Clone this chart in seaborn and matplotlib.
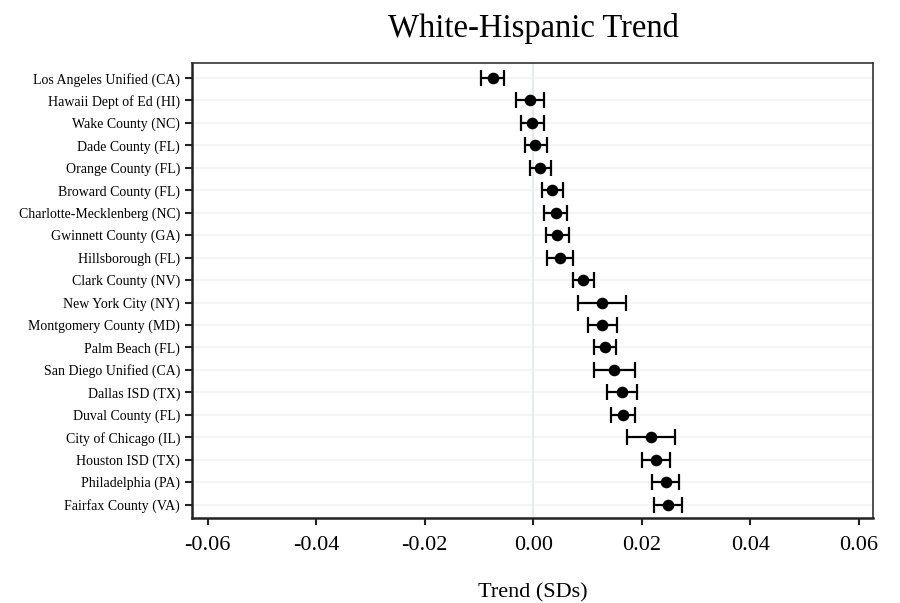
import matplotlib
matplotlib.use("Agg")
import matplotlib.pyplot as plt
import seaborn as sns
import pandas as pd

# data
districts = [
    "Los Angeles Unified (CA)", "Hawaii Dept of Ed (HI)", "Wake County (NC)",
    "Dade County (FL)", "Orange County (FL)", "Broward County (FL)",
    "Charlotte-Mecklenberg (NC)", "Gwinnett County (GA)", "Hillsborough (FL)",
    "Clark County (NV)", "New York City (NY)", "Montgomery County (MD)",
    "Palm Beach (FL)", "San Diego Unified (CA)", "Dallas ISD (TX)",
    "Duval County (FL)", "City of Chicago (IL)", "Houston ISD (TX)",
    "Philadelphia (PA)", "Fairfax County (VA)",
]
trend = [-0.0075, -0.0006, -0.0002, 0.0004, 0.0012, 0.0035, 0.0041, 0.0043,
         0.0050, 0.0092, 0.0126, 0.0127, 0.0132, 0.0148, 0.0164, 0.0165,
         0.0216, 0.0226, 0.0244, 0.0248]
ci_low = [-0.0096, -0.0032, -0.0023, -0.0015, -0.0006, 0.0016, 0.0020, 0.0023,
          0.0026, 0.0074, 0.0083, 0.0100, 0.0111, 0.0111, 0.0136, 0.0143,
          0.0173, 0.0200, 0.0219, 0.0222]
ci_high = [-0.0054, 0.0020, 0.0020, 0.0025, 0.0032, 0.0054, 0.0063, 0.0065,
           0.0074, 0.0111, 0.0170, 0.0155, 0.0152, 0.0187, 0.0192, 0.0187,
           0.0262, 0.0251, 0.0269, 0.0274]
xticks = [-0.06, -0.04, -0.02, 0.00, 0.02, 0.04, 0.06]

df = pd.DataFrame({"district": districts, "trend": trend,
                   "low": ci_low, "high": ci_high})
df["pos"] = range(len(df))

sns.set_style("white")
plt.rcParams["font.family"] = ["Liberation Serif", "DejaVu Serif"]
plt.rcParams["text.color"] = "black"
plt.rcParams["xtick.color"] = "black"
plt.rcParams["ytick.color"] = "black"
plt.rcParams["axes.labelcolor"] = "black"

fig = plt.figure(figsize=(9, 6.03), dpi=100)
ax = fig.add_axes([192 / 900, 1 - 518 / 603, 681 / 900, 455 / 603])

# faint row lines and zero line
for p in df["pos"]:
    ax.axhline(p, color="#f4f4f4", lw=1.2, zorder=0)
ax.axvline(0, color="#dde8ee", lw=1.2, zorder=0)

ax.errorbar(df["trend"], df["pos"],
            xerr=[df["trend"] - df["low"], df["high"] - df["trend"]],
            fmt="none", ecolor="black", elinewidth=1.6, capsize=5.5,
            capthick=1.6, zorder=2)
sns.scatterplot(data=df, x="trend", y="pos", color="black", s=70,
                edgecolor="black", linewidth=0, zorder=3, ax=ax)

ax.set_xlim(-0.0629, 0.0626)
ax.set_ylim(19.6, -0.67)
ax.set_yticks(df["pos"])
ax.set_yticklabels(districts, fontsize=10)
ax.set_xticks(xticks)
ax.set_xticklabels([f"{t:.2f}" for t in xticks], fontsize=16)
ax.tick_params(axis="both", direction="out", length=5, width=1.5,
               color="#222222", left=True, bottom=True)
ax.tick_params(axis="x", pad=8)

for side in ["left", "bottom"]:
    ax.spines[side].set_linewidth(1.8)
    ax.spines[side].set_color("#222222")
for side in ["top", "right"]:
    ax.spines[side].set_linewidth(1.2)
    ax.spines[side].set_color("#333333")

ax.set_xlabel("Trend (SDs)", fontsize=16, labelpad=20)
ax.set_ylabel("")
fig.suptitle("White-Hispanic Trend", fontsize=23.5, x=533 / 900, y=0.978)

fig.savefig("out.png", dpi=100)
